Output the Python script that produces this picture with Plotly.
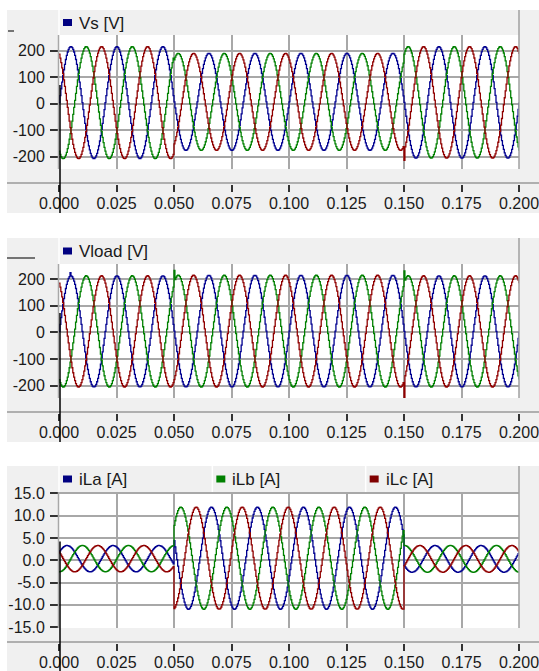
import numpy as np
import plotly.graph_objects as go

W, H = 539, 671

# ------------------------------------------------------------------
# Data
# ------------------------------------------------------------------
TIME_TICKS = [0.0, 0.025, 0.05, 0.075, 0.1, 0.125, 0.15, 0.175, 0.2]
TIME_TICK_LABELS = ["0.000", "0.025", "0.050", "0.075", "0.100",
                    "0.125", "0.150", "0.175", "0.200"]
V_TICKS = [-200, -100, 0, 100, 200]
V_TICK_LABELS = ["-200", "-100", "0", "100", "200"]
I_TICKS = [-15, -10, -5, 0, 5, 10, 15]
I_TICK_LABELS = ["-15.0", "-10.0", "-5.0", "0.0", "5.0", "10.0", "15.0"]

FREQ_HZ = 50                     # 10 cycles per phase over 0.2 s
SAMPLE_STEP = 0.0004             # staircase step of the recorded traces
SEG_EDGES = [0.0, 0.05, 0.15, 0.2]
PHASE_DEG = [0, -120, 120]       # phase a (blue), b (green), c (red)

# Vs [V] : per-segment maximum / minimum
VS_MAX = [215, 190, 215]
VS_MIN = [-208, -177, -206]
VS_SHIFT_DEG = [0, 0, 0]
VS_SPIKE_T = [0.15]
VS_SPIKE_PHASE = [2]
VS_SPIKE_VAL = [-214]

# Vload [V]
VLOAD_MAX = [212, 214, 212]
VLOAD_MIN = [-205, -205, -205]
VLOAD_SHIFT_DEG = [0, 0, 0]
VLOAD_SPIKE_T = [0.0048, 0.05, 0.15, 0.15]
VLOAD_SPIKE_PHASE = [0, 1, 2, 1]
VLOAD_SPIKE_VAL = [224, 232, -248, 230]

# iLa, iLb, iLc [A]
IL_MAX = [3.3, 11.9, 3.3]
IL_MIN = [-2.6, -11.0, -2.7]
IL_SHIFT_DEG = [30, -20, 30]

# value where the black start-up line at t = 0 begins (per panel)
START_LINE_TOP = [70, 72, 4.2]

PANEL_LEGENDS = [["Vs [V]"], ["Vload [V]"], ["iLa [A]", "iLb [A]", "iLc [A]"]]
PHASE_COLORS = ["#000090", "#008000", "#900000"]
LEGEND_COLORS = ["#000080", "#008000", "#800000"]

# ------------------------------------------------------------------
# Build traces
# ------------------------------------------------------------------
t = np.arange(0.0, SEG_EDGES[-1] + SAMPLE_STEP / 2, SAMPLE_STEP)


def phase_series(k, vmax, vmin, shift, spike_t=(), spike_ph=(), spike_v=()):
    y = np.zeros_like(t)
    nseg = len(SEG_EDGES) - 1
    for s in range(nseg):
        lo, hi = SEG_EDGES[s], SEG_EDGES[s + 1]
        if s < nseg - 1:
            m = (t >= lo - 1e-12) & (t < hi - 1e-12)
        else:
            m = (t >= lo - 1e-12)
        mid = (vmax[s] + vmin[s]) / 2
        amp = (vmax[s] - vmin[s]) / 2
        y[m] = mid + amp * np.sin(2 * np.pi * FREQ_HZ * t[m] + np.radians(PHASE_DEG[k] + shift[s]))
    for st, sp, sv in zip(spike_t, spike_ph, spike_v):
        if sp == k:
            y[int(round(st / SAMPLE_STEP))] = sv
    return y


panels = [
    dict(vmax=VS_MAX, vmin=VS_MIN, shift=VS_SHIFT_DEG,
         sp=(VS_SPIKE_T, VS_SPIKE_PHASE, VS_SPIKE_VAL)),
    dict(vmax=VLOAD_MAX, vmin=VLOAD_MIN, shift=VLOAD_SHIFT_DEG,
         sp=(VLOAD_SPIKE_T, VLOAD_SPIKE_PHASE, VLOAD_SPIKE_VAL)),
    dict(vmax=IL_MAX, vmin=IL_MIN, shift=IL_SHIFT_DEG, sp=((), (), ())),
]

# pixel layout of each panel: bg top, plot top, plot bottom, axis rule, bg bottom
PX = [
    dict(bg0=10, p0=35, p1=169, ax=183, bg1=213, rng=[-247, 259]),
    dict(bg0=238, p0=264, p1=398, ax=412, bg1=442, rng=[-246, 256]),
    dict(bg0=466, p0=492, p1=628, ax=642, bg1=671, rng=[-15.2, 15.3]),
]
PX_L, PX_R = 59, 519
FONT = "Liberation Sans, Arial, sans-serif"


def py(v):
    return 1 - v / H


def pxx(v):
    return v / W


fig = go.Figure()
for i, p in enumerate(panels):
    for k in range(3):
        y = phase_series(k, p["vmax"], p["vmin"], p["shift"], *p["sp"])
        fig.add_trace(go.Scatter(
            x=t, y=y, mode="lines", line=dict(color=PHASE_COLORS[k], width=1.3, shape="hv"),
            xaxis="x" if i == 0 else f"x{i+1}", yaxis="y" if i == 0 else f"y{i+1}",
            showlegend=False, hoverinfo="skip"))

layout = dict(width=W, height=H, autosize=False,
              margin=dict(l=0, r=0, t=0, b=0, pad=0, autoexpand=False),
              paper_bgcolor="white", plot_bgcolor="white", showlegend=False,
              font=dict(family=FONT, size=16, color="#1a1a1a"))
shapes = []
annotations = []
GRID = "#a8a8a8"
BG = "#f0f0f0"
for i, L in enumerate(PX):
    xs = "" if i == 0 else str(i + 1)
    ticks, labels = (V_TICKS, V_TICK_LABELS) if i < 2 else (I_TICKS, I_TICK_LABELS)
    layout[f"xaxis{xs}"] = dict(
        domain=[pxx(PX_L), pxx(PX_R)], range=[0, 0.2], anchor="free", position=py(L["ax"] + 1),
        tickvals=TIME_TICKS, ticktext=TIME_TICK_LABELS, ticks="outside", ticklen=7, tickwidth=2,
        tickcolor="#333333", showgrid=True, gridcolor=GRID, gridwidth=1.5, zeroline=False,
        showline=False, tickfont=dict(size=16), ticklabelstandoff=-2, automargin=False,
        ticklabeloverflow="allow")
    layout[f"yaxis{xs}"] = dict(
        domain=[py(L["p1"]), py(L["p0"])], range=L["rng"], anchor="x" + xs,
        tickvals=ticks, ticktext=labels, ticks="outside", ticklen=8, tickwidth=1.5,
        tickcolor="#333333", showgrid=True, gridcolor=GRID, gridwidth=1.5, zeroline=False,
        showline=False, tickfont=dict(size=16), ticklabelstandoff=2, automargin=False,
        ticklabeloverflow="allow")

    # panel background, plot area
    shapes.append(dict(type="rect", xref="paper", yref="paper", x0=pxx(7), x1=1.0,
                       y0=py(L["bg1"]), y1=py(L["bg0"]), fillcolor=BG, line=dict(width=0), layer="below"))
    shapes.append(dict(type="rect", xref="paper", yref="paper", x0=pxx(PX_L), x1=pxx(PX_R),
                       y0=py(L["p1"]), y1=py(L["p0"]), fillcolor="white", line=dict(width=0), layer="below"))
    shapes.append(dict(type="line", xref="paper", yref="paper", x0=pxx(PX_L), x1=pxx(PX_L),
                       y0=py(L["p0"]), y1=py(L["bg0"]), line=dict(color="white", width=1.5), layer="below"))
    # plot edges
    shapes.append(dict(type="line", xref="paper", yref="paper", x0=pxx(PX_L - 0.5), x1=pxx(PX_L - 0.5),
                       y0=py(L["p1"]), y1=py(L["p0"]), line=dict(color=GRID, width=1.5), layer="above"))
    shapes.append(dict(type="line", xref="paper", yref="paper", x0=pxx(PX_R), x1=pxx(PX_R),
                       y0=py(L["p1"]), y1=py(L["bg0"]), line=dict(color="#a0a0a0", width=1.5), layer="above"))
    # horizontal rule above x tick labels
    shapes.append(dict(type="line", xref="paper", yref="paper", x0=pxx(7), x1=1.0,
                       y0=py(L["ax"]), y1=py(L["ax"]), line=dict(color="#9a9a9a", width=1.5), layer="above"))
    # black start-up line at t = 0
    r0, r1 = L["rng"]
    top_px = L["p1"] - (START_LINE_TOP[i] - r0) / (r1 - r0) * (L["p1"] - L["p0"])
    shapes.append(dict(type="line", xref="paper", yref="paper", x0=pxx(PX_L + 1), x1=pxx(PX_L + 1),
                       y0=py(top_px), y1=py(L["bg1"]), line=dict(color="black", width=1.5), layer="above"))

    # legend strip items
    items = PANEL_LEGENDS[i]
    seg = (PX_R - PX_L) / 3
    for j, name in enumerate(items):
        x0 = PX_L + j * seg
        if j > 0:
            shapes.append(dict(type="line", xref="paper", yref="paper", x0=pxx(x0), x1=pxx(x0),
                               y0=py(L["p0"]), y1=py(L["bg0"]), line=dict(color="white", width=1.5),
                               layer="above"))
        cy = (L["bg0"] + L["p0"]) / 2 + 0.5
        shapes.append(dict(type="rect", xref="paper", yref="paper", x0=pxx(x0 + 4), x1=pxx(x0 + 13),
                           y0=py(cy + 3), y1=py(cy - 4), fillcolor=LEGEND_COLORS[j],
                           line=dict(width=0), layer="above"))
        annotations.append(dict(text=name, xref="paper", yref="paper", x=pxx(x0 + 18), y=py(cy),
                                xanchor="left", yanchor="middle", showarrow=False,
                                font=dict(size=17, color="#1a1a1a")))

# small marks at the top-left of panels 1 and 2
shapes.append(dict(type="line", xref="paper", yref="paper", x0=pxx(8), x1=pxx(14), y0=py(31), y1=py(31),
                   line=dict(color="#222", width=1.2)))
shapes.append(dict(type="line", xref="paper", yref="paper", x0=pxx(7), x1=pxx(35), y0=py(258), y1=py(258),
                   line=dict(color="#222", width=1.2)))

layout["shapes"] = shapes
layout["annotations"] = annotations
fig.update_layout(**layout)
fig.write_html("out.html", config={"displayModeBar": False},
               post_script="document.body.style.margin='0';document.body.style.overflow='hidden';")
